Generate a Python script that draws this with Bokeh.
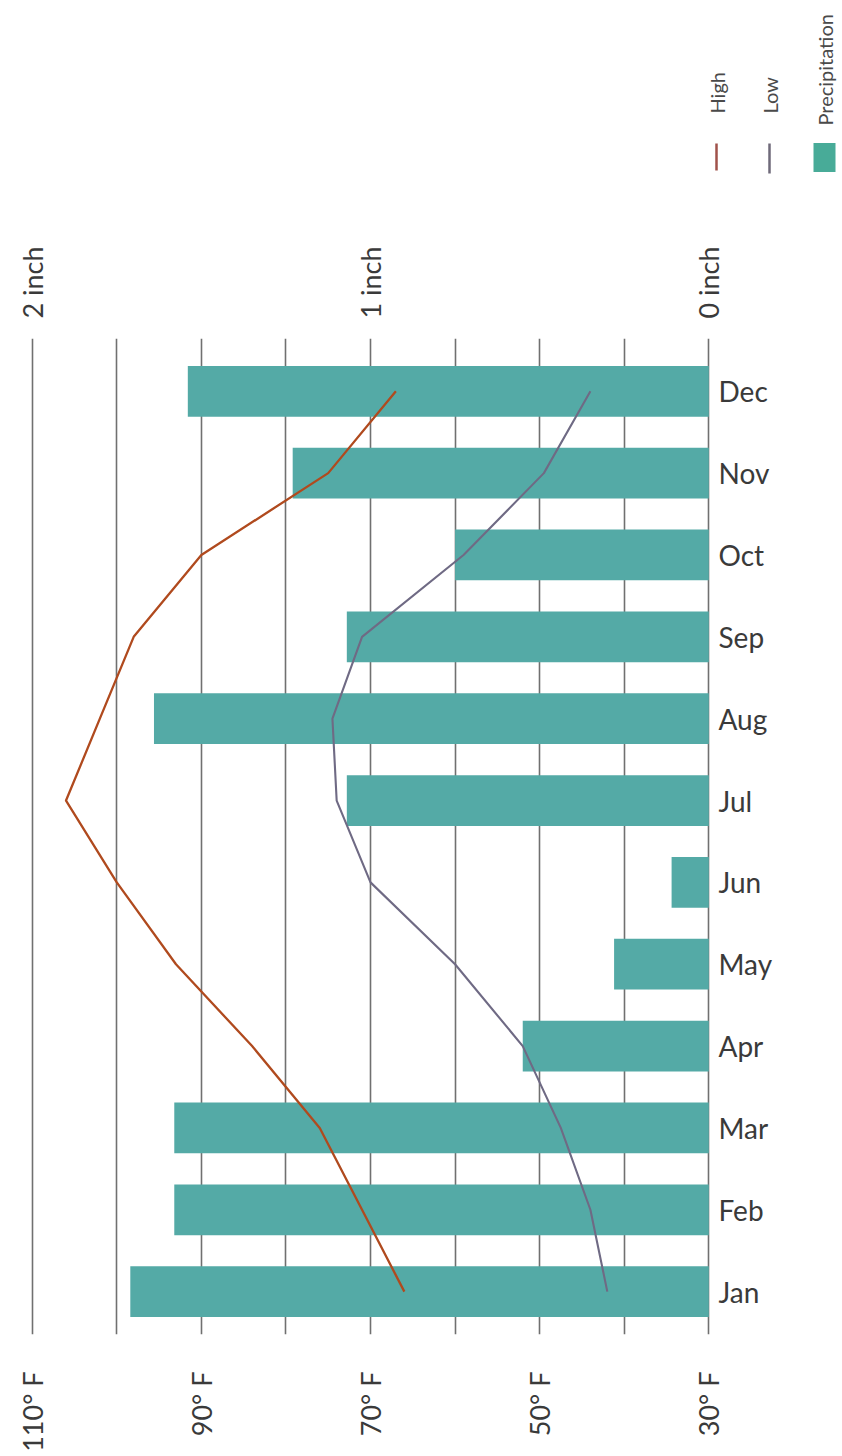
import math
from bokeh.plotting import figure
from bokeh.models import Range1d, LinearAxis, FixedTicker, ColumnDataSource
from bokeh.layouts import column
from bokeh.core.properties import value
from bokeh.embed import file_html
from bokeh.resources import INLINE

# ---------------- data ----------------
months = ["Jan", "Feb", "Mar", "Apr", "May", "Jun", "Jul", "Aug", "Sep", "Oct", "Nov", "Dec"]
high_f = [66, 71, 76, 84, 93, 100, 106, 102, 98, 90, 75, 67]
low_f = [42, 44, 47.5, 52, 60, 70, 74, 74.5, 71, 59, 49.5, 44]
precip_in = [1.71, 1.58, 1.58, 0.55, 0.28, 0.11, 1.07, 1.64, 1.07, 0.75, 1.23, 1.54]

temp_ticks = [30, 50, 70, 90, 110]
temp_labels = ["30° F", "50° F", "70° F", "90° F", "110° F"]
temp_grid = [30, 40, 50, 60, 70, 80, 90, 100, 110]
precip_ticks = [0, 1, 2]
precip_labels = ["0 inch", "1 inch", "2 inch"]
legend_labels = ["High", "Low", "Precipitation"]

# 0 inch <-> 30 F, 1 inch spans 40 F
T0, T_PER_INCH = 30.0, 40.0

# ---------------- style ----------------
FONT = "Lato"
TEXT = "#3a3a3a"
BAR = "#54aaa6"
HIGH = "#b04a1e"
LOW = "#6f6a84"
GRID = "#707070"

W = 842
t_left, t_right = 110.2, 29.8

src = ColumnDataSource(dict(idx=list(range(len(months))), high=high_f, low=low_f, precip=precip_in))

p = figure(width=W, height=1246,
           x_range=Range1d(t_left, t_right), y_range=Range1d(-0.524, 11.645),
           output_backend="svg", toolbar_location=None,
           x_axis_location=None, y_axis_location=None,
           min_border_left=30, min_border_right=132, min_border_top=130, min_border_bottom=117)
p.frame_align = False
p.outline_line_color = None
p.background_fill_color = "white"
p.border_fill_color = "white"
p.extra_x_ranges = {"precip": Range1d((t_left - T0) / T_PER_INCH, (t_right - T0) / T_PER_INCH)}

p.xgrid.ticker = FixedTicker(ticks=temp_grid)
p.xgrid.grid_line_color = GRID
p.xgrid.grid_line_width = 1.6
p.ygrid.visible = False


def style_axis(ax, size, standoff, orient=None):
    ax.axis_line_color = None
    ax.major_tick_line_color = None
    ax.minor_tick_line_color = None
    ax.major_tick_out = 0
    ax.major_tick_in = 0
    ax.major_label_text_font = FONT
    ax.major_label_text_font_size = size
    ax.major_label_text_color = TEXT
    ax.major_label_standoff = standoff
    if orient is not None:
        ax.major_label_orientation = orient


bx = LinearAxis(ticker=FixedTicker(ticks=temp_ticks),
                major_label_overrides={t: l for t, l in zip(temp_ticks, temp_labels)})
style_axis(bx, "27px", 37, math.pi / 2)
p.add_layout(bx, "below")

tx = LinearAxis(x_range_name="precip", ticker=FixedTicker(ticks=precip_ticks),
                major_label_overrides={t: l for t, l in zip(precip_ticks, precip_labels)})
style_axis(tx, "27px", 20, math.pi / 2)
p.add_layout(tx, "above")

ry = LinearAxis(ticker=FixedTicker(ticks=list(range(len(months)))),
                major_label_overrides={i: m for i, m in enumerate(months)})
style_axis(ry, "28px", 8)
p.add_layout(ry, "right")

p.hbar(y="idx", left=0, right="precip", height=0.62, source=src,
       x_range_name="precip", fill_color=BAR, line_color=None)
p.line(x="high", y="idx", source=src, line_color=HIGH, line_width=2.3, line_join="round")
p.line(x="low", y="idx", source=src, line_color=LOW, line_width=2.1, line_join="round")

# ---------------- legend (rotated, as in the original) ----------------
LH = 208
lg = figure(width=W, height=LH, x_range=Range1d(0, W), y_range=Range1d(LH, 0),
            output_backend="svg", toolbar_location=None,
            x_axis_location=None, y_axis_location=None, min_border=0)
lg.frame_align = False
lg.min_border_left = 0
lg.min_border_right = 0
lg.min_border_top = 0
lg.min_border_bottom = 0
lg.outline_line_color = None
lg.xgrid.visible = False
lg.ygrid.visible = False

leg_x = [716, 769, 824]
leg_text_y = [113, 113, 125]
lg.text(x=leg_x, y=leg_text_y, text=legend_labels, angle=math.pi / 2,
        text_align="left", text_baseline="middle",
        text_font=value(FONT), text_font_size="20px", text_color="#4a4a4a")
lg.segment(x0=leg_x[:2], y0=[143, 143], x1=leg_x[:2], y1=[170, 173],
           line_color=["#a0524a", "#6f6a7a"], line_width=2.5)
lg.rect(x=[leg_x[2]], y=[157], width=[22], height=[29], fill_color="#48ab98", line_color=None)

layout = column(lg, p)
open("out.html", "w").write(file_html(layout, INLINE))
